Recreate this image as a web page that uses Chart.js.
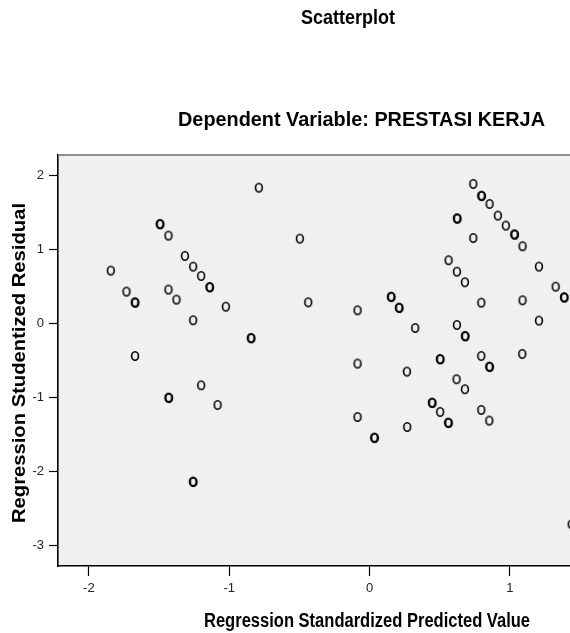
<!DOCTYPE html>
<html>
<head>
<meta charset="utf-8">
<title>Scatterplot</title>
<script src="https://cdn.jsdelivr.net/npm/chart.js@4.4.1/dist/chart.umd.min.js"></script>
<style>
  html, body { margin: 0; padding: 0; background: #fff; overflow: hidden; }
  #wrap { width: 570px; height: 633px; }
</style>
</head>
<body>
<div id="wrap"><canvas id="plot" width="570" height="633"></canvas></div>
<script>
/* ── DATA ─────────────────────────────────────────────── */
const predicted = [
  -1.844, -1.732, -1.673, -1.669, -1.671, -1.495, -1.491, -1.433, -1.433, -1.376,
  -1.316, -1.257, -1.257, -1.200, -1.141, -1.137, -1.024, -0.846, -0.842, -0.789,
  -1.433, -1.429, -1.200, -1.083, -1.259, -1.255,
  -0.497, -0.437, -0.086, 0.152, 0.156, 0.209, 0.213, 0.325, 0.622, 0.626,
  0.739, 0.796, 0.800, 0.855, 0.914, 0.971, 1.031, 1.035, 1.090, 0.739,
  0.563, 0.622, 0.679, 1.207, 1.326, 1.385, 1.389, 0.796, 1.090, 1.207,
  0.622, 0.679, 0.683, -0.086, 0.266, 0.501, 0.505, 0.796, 0.853, 0.857,
  1.088, 0.620, 0.679, 0.444, 0.448, 0.503, 0.560, 0.564, 0.796, 0.853,
  -0.086, 0.033, 0.037, 0.268, 1.440
];
const residual = [
  0.714, 0.430, 0.286, 0.280, -0.440, 1.345, 1.339, 1.187, 0.457, 0.322,
  0.912, 0.768, 0.043, 0.642, 0.493, 0.487, 0.227, -0.196, -0.202, 1.835,
  -1.002, -1.008, -0.836, -1.101, -2.137, -2.143,
  1.146, 0.286, 0.178, 0.362, 0.356, 0.214, 0.208, -0.061, 1.421, 1.415,
  1.885, 1.727, 1.721, 1.615, 1.457, 1.322, 1.205, 1.199, 1.043, 1.155,
  0.854, 0.700, 0.557, 0.768, 0.497, 0.354, 0.348, 0.281, 0.313, 0.038,
  -0.020, -0.169, -0.175, -0.543, -0.651, -0.480, -0.486, -0.439, -0.583, -0.589,
  -0.412, -0.754, -0.889, -1.070, -1.076, -1.196, -1.340, -1.346, -1.169, -1.313,
  -1.264, -1.543, -1.549, -1.399, -2.714
];
const xTicks = [-2, -1, 0, 1];
const yTicks = [-3, -2, -1, 0, 1, 2];
const xRange = [-2.22, 1.428];
const yRange = [-3.278, 2.276];

const TITLE    = 'Scatterplot';
const SUBTITLE = 'Dependent Variable: PRESTASI KERJA';
const X_LABEL  = 'Regression Standardized Predicted Value';
const Y_LABEL  = 'Regression Studentized Residual';

const FONT = '"Liberation Sans", Arial, sans-serif';

/* ── MARKER: slightly tall open ellipse, like the SPSS export ── */
const marker = document.createElement('canvas');
marker.width = 12; marker.height = 12;
(() => {
  const m = marker.getContext('2d');
  m.strokeStyle = '#000';
  m.lineWidth = 1.6;
  m.beginPath();
  m.ellipse(6, 6, 3.4, 4.2, 0, 0, Math.PI * 2);
  m.stroke();
})();

/* ── PLUGINS ─────────────────────────────────────────── */
const frame = {
  id: 'frame',
  beforeDraw(chart) {
    const { ctx, chartArea: a } = chart;
    ctx.save();
    ctx.fillStyle = '#f0f0f0';
    ctx.fillRect(a.left, a.top, a.right - a.left, a.bottom - a.top);
    ctx.restore();
  },
  afterDraw(chart) {
    const { ctx, chartArea: a } = chart;
    ctx.save();
    ctx.strokeStyle = '#6e6e6e';
    ctx.lineWidth = 1.6;
    ctx.beginPath();
    ctx.moveTo(a.left, a.top);
    ctx.lineTo(a.right, a.top);
    ctx.stroke();
    ctx.restore();
  }
};

/* draw a label squeezed to the width it has in the picture */
function fitText(ctx, str, x, y, len, size, angle) {
  ctx.save();
  ctx.font = `bold ${size}px ${FONT}`;
  ctx.fillStyle = '#000';
  ctx.textBaseline = 'alphabetic';
  ctx.textAlign = 'left';
  const w = ctx.measureText(str).width;
  ctx.translate(x, y);
  if (angle) ctx.rotate(angle);
  ctx.scale(len / w, 1);
  ctx.fillText(str, 0, 0);
  ctx.restore();
}

const labels = {
  id: 'labels',
  afterDraw(chart) {
    const ctx = chart.ctx;
    fitText(ctx, TITLE,    301, 24,  94,  20);
    fitText(ctx, SUBTITLE, 178, 126, 367, 20);
    fitText(ctx, X_LABEL,  204, 627, 326, 20);
    fitText(ctx, Y_LABEL,  25,  523, 320, 19, -Math.PI / 2);
  }
};

/* ── CHART ───────────────────────────────────────────── */
const points = predicted.map((x, i) => ({ x, y: residual[i] }));

new Chart(document.getElementById('plot').getContext('2d'), {
  type: 'scatter',
  data: {
    datasets: [{
      data: points,
      pointStyle: marker,
      pointRadius: 5,
      pointHoverRadius: 5,
      borderColor: '#000',
      backgroundColor: 'transparent'
    }]
  },
  options: {
    responsive: false,
    devicePixelRatio: 1,
    animation: false,
    events: [],
    layout: { autoPadding: false, padding: { top: 155, right: 0, left: 0, bottom: 0 } },
    plugins: { legend: { display: false }, tooltip: { enabled: false } },
    scales: {
      x: {
        type: 'linear',
        min: xRange[0],
        max: xRange[1],
        afterBuildTicks: ax => { ax.ticks = xTicks.map(v => ({ value: v })); },
        afterFit: ax => { ax.height = 67; },
        grid: { drawOnChartArea: false, drawTicks: true, tickLength: 10, tickColor: '#000', tickWidth: 1.2 },
        border: { color: '#000', width: 1.6 },
        ticks: { color: '#222', padding: 5, maxRotation: 0, font: { size: 13, family: FONT } }
      },
      y: {
        type: 'linear',
        min: yRange[0],
        max: yRange[1],
        afterBuildTicks: ax => { ax.ticks = yTicks.map(v => ({ value: v })); },
        afterFit: ax => { ax.width = 58; },
        grid: { drawOnChartArea: false, drawTicks: true, tickLength: 9, tickColor: '#000', tickWidth: 1.2 },
        border: { color: '#000', width: 1.6 },
        ticks: { color: '#222', padding: 5, font: { size: 13, family: FONT } }
      }
    }
  },
  plugins: [frame, labels]
});
</script>
</body>
</html>
